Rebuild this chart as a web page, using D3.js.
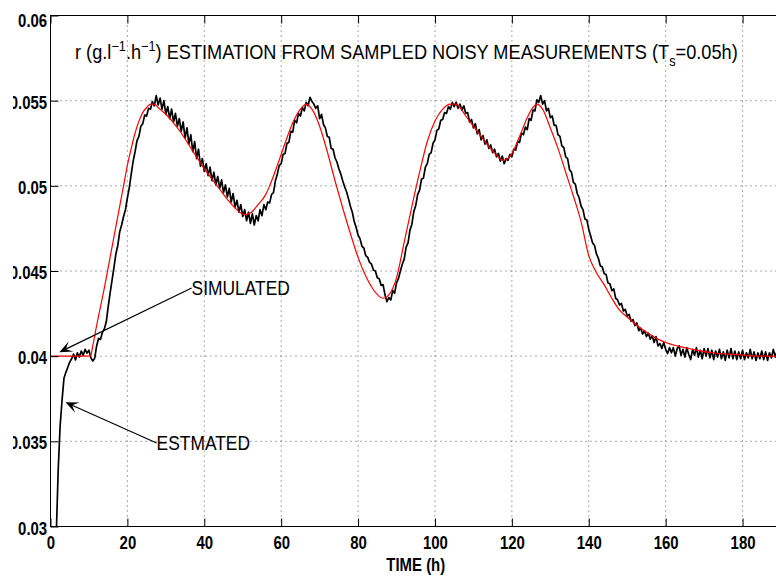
<!DOCTYPE html>
<html>
<head>
<meta charset="utf-8">
<title>r estimation from sampled noisy measurements</title>
<script src="https://d3js.org/d3.v7.min.js"></script>
<style>
  body { margin: 0; background: #fff; }
  svg { display: block; font-family: "Liberation Sans", Arial, Helvetica, sans-serif; }
  .grid line { stroke: #555; stroke-width: 1; stroke-dasharray: 1,4; }
  .axis path { display: none; }
  .axis line { stroke: #000; }
  .axis text { font-size: 18px; font-weight: bold; fill: #000; }
  .note { font-size: 20px; fill: #000; }
</style>
</head>
<body>
<div id="chart"></div>
<script>
// ticks
var xTicks = [0, 20, 40, 60, 80, 100, 120, 140, 160, 180];
var yTicks = [0.03, 0.035, 0.04, 0.045, 0.05, 0.055, 0.06];
var yTickLabels = ["0.03", "0.035", "0.04", "0.045", "0.05", "0.055", "0.06"];

// simulated r (red)
var simTime = [0, 10, 10.4, 11, 12, 13, 14, 15, 16, 17, 18, 19, 20, 21, 22, 23, 24, 25, 26, 27, 28,
  30, 32, 34, 36, 38, 40, 42, 44, 46, 48, 50.5, 52, 54, 56, 57, 59, 61, 63, 65, 66.5,
  68, 70, 72, 74, 76, 78, 80, 82, 84, 86.5, 88, 90, 92, 94, 96, 98, 100, 102, 104, 105.5,
  108, 110, 112, 114, 116, 117.7, 119, 120, 122, 124, 125.5, 126.5, 128, 130, 132, 134, 136, 138,
  140, 142, 144, 146, 148, 150, 152, 155, 158, 160, 163, 167, 172, 178, 185, 190];
var simValue = [0.0400, 0.0400, 0.04002, 0.0406, 0.0418, 0.0429, 0.0440, 0.0452, 0.0464, 0.0476, 0.0488, 0.0500, 0.0512, 0.0522, 0.0531, 0.0538, 0.0543, 0.0546, 0.0548, 0.0548, 0.0546,
  0.0542, 0.0537, 0.0531, 0.0524, 0.0517, 0.0510, 0.0504, 0.0498, 0.0492, 0.0487, 0.0483, 0.0484, 0.0489, 0.0495, 0.0500, 0.0512, 0.0525, 0.0537, 0.0545, 0.0548,
  0.0545, 0.0535, 0.0520, 0.0503, 0.0487, 0.0472, 0.0458, 0.0447, 0.0439, 0.0434, 0.0436, 0.0446, 0.0467, 0.0488, 0.0508, 0.0526, 0.0538, 0.0545, 0.0548, 0.0548,
  0.0541, 0.0535, 0.0529, 0.0523, 0.0518, 0.0515, 0.0516, 0.0519, 0.0529, 0.0540, 0.0546, 0.0548, 0.0545, 0.0534, 0.0522, 0.0508, 0.0494, 0.0479,
  0.0459, 0.0449, 0.0442, 0.0434, 0.0427, 0.0423, 0.0419, 0.0414, 0.0410, 0.0408, 0.0406, 0.0404, 0.0402, 0.0401, 0.0400, 0.0400];

// estimated r (black), sampled every 0.5 h from t = 1.5 h
var estStart = 1.5, estStep = 0.5;
var estValue = [
  0.02950, 0.03330, 0.03590, 0.03740, 0.03870, 0.03905, 0.03935, 0.03965, 0.03985, 0.04012,
  0.03978, 0.04020, 0.03995, 0.04030, 0.04005, 0.04040, 0.04018, 0.04035, 0.03990, 0.03972,
  0.03988, 0.04060, 0.04105, 0.04098, 0.04140, 0.04160, 0.04200, 0.04290, 0.04370, 0.04445,
  0.04520, 0.04600, 0.04650, 0.04730, 0.04770, 0.04820, 0.04860, 0.04930, 0.04990, 0.05070,
  0.05145, 0.05200, 0.05265, 0.05290, 0.05350, 0.05365, 0.05415, 0.05410, 0.05455, 0.05450,
  0.05495, 0.05470, 0.05530, 0.05475, 0.05515, 0.05450, 0.05500, 0.05420, 0.05465, 0.05395,
  0.05450, 0.05375, 0.05425, 0.05350, 0.05395, 0.05320, 0.05375, 0.05280, 0.05340, 0.05245,
  0.05300, 0.05200, 0.05260, 0.05160, 0.05215, 0.05115, 0.05160, 0.05085, 0.05130, 0.05060,
  0.05110, 0.05030, 0.05080, 0.05005, 0.05055, 0.04985, 0.05035, 0.04960, 0.05005, 0.04935,
  0.04985, 0.04905, 0.04955, 0.04875, 0.04915, 0.04845, 0.04890, 0.04820, 0.04860, 0.04795,
  0.04845, 0.04780, 0.04835, 0.04770, 0.04825, 0.04795, 0.04860, 0.04825, 0.04890, 0.04860,
  0.04905, 0.04900, 0.04950, 0.04960, 0.05030, 0.05070, 0.05120, 0.05130, 0.05185, 0.05190,
  0.05250, 0.05255, 0.05320, 0.05315, 0.05385, 0.05370, 0.05425, 0.05410, 0.05460, 0.05440,
  0.05490, 0.05470, 0.05520, 0.05495, 0.05480, 0.05455, 0.05470, 0.05395, 0.05420, 0.05360,
  0.05340, 0.05290, 0.05285, 0.05220, 0.05215, 0.05165, 0.05140, 0.05100, 0.05070, 0.05030,
  0.04995, 0.04965, 0.04925, 0.04880, 0.04845, 0.04790, 0.04755, 0.04710, 0.04690, 0.04645,
  0.04635, 0.04590, 0.04580, 0.04550, 0.04540, 0.04505, 0.04500, 0.04460, 0.04455, 0.04415,
  0.04420, 0.04360, 0.04320, 0.04345, 0.04330, 0.04385, 0.04370, 0.04430, 0.04455, 0.04500,
  0.04540, 0.04570, 0.04640, 0.04665, 0.04740, 0.04775, 0.04850, 0.04885, 0.04950, 0.04975,
  0.05040, 0.05045, 0.05110, 0.05130, 0.05185, 0.05195, 0.05250, 0.05270, 0.05325, 0.05335,
  0.05385, 0.05390, 0.05430, 0.05425, 0.05465, 0.05450, 0.05490, 0.05465, 0.05490, 0.05455,
  0.05480, 0.05445, 0.05470, 0.05425, 0.05430, 0.05375, 0.05390, 0.05340, 0.05365, 0.05305,
  0.05330, 0.05270, 0.05295, 0.05245, 0.05270, 0.05220, 0.05240, 0.05195, 0.05215, 0.05170,
  0.05190, 0.05145, 0.05175, 0.05130, 0.05160, 0.05150, 0.05185, 0.05170, 0.05215, 0.05210,
  0.05260, 0.05255, 0.05310, 0.05300, 0.05345, 0.05330, 0.05395, 0.05385, 0.05445, 0.05440,
  0.05505, 0.05490, 0.05530, 0.05480, 0.05500, 0.05440, 0.05455, 0.05400, 0.05410, 0.05355,
  0.05355, 0.05300, 0.05290, 0.05235, 0.05225, 0.05170, 0.05160, 0.05095, 0.05080, 0.05020,
  0.05010, 0.04955, 0.04930, 0.04880, 0.04860, 0.04805, 0.04800, 0.04745, 0.04705, 0.04665,
  0.04650, 0.04600, 0.04575, 0.04530, 0.04525, 0.04485, 0.04480, 0.04430, 0.04425, 0.04385,
  0.04395, 0.04340, 0.04330, 0.04300, 0.04310, 0.04265, 0.04275, 0.04235, 0.04245, 0.04205,
  0.04215, 0.04180, 0.04195, 0.04150, 0.04165, 0.04130, 0.04150, 0.04115, 0.04135, 0.04100,
  0.04120, 0.04080, 0.04115, 0.04060, 0.04075, 0.04045, 0.04080, 0.04040, 0.04015, 0.04050,
  0.04020, 0.04050, 0.04000, 0.04045, 0.04060, 0.04005, 0.04040, 0.03995, 0.04050, 0.04010,
  0.03980, 0.04040, 0.04005, 0.04050, 0.03995, 0.04035, 0.03985, 0.04045, 0.04000, 0.04045,
  0.03990, 0.04035, 0.03980, 0.04030, 0.03995, 0.04040, 0.03985, 0.04025, 0.03975, 0.04035,
  0.03990, 0.04045, 0.03985, 0.04030, 0.03980, 0.04025, 0.03985, 0.04035, 0.03980, 0.04020,
  0.03990, 0.04040, 0.03985, 0.04025, 0.03975, 0.04020, 0.03985, 0.04030, 0.03980, 0.04025,
  0.03975, 0.04020, 0.03990, 0.04040, 0.03995, 0.04030
];

// annotations: label, text anchor (t, r), arrow tip (t, r)
var noteLabels = ["SIMULATED", "ESTMATED"];
var noteAt = [[36.7, 0.0440], [27.6, 0.0349]];
var noteTip = [[2.3, 0.04023], [3.9, 0.03729]];

var outerWidth = 776, outerHeight = 578;
var margin = {top: 15.5, right: -5, bottom: 51.5, left: 50.5};
var width = outerWidth - margin.left - margin.right;
var height = outerHeight - margin.top - margin.bottom;
var squeeze = 0.83;

var svg = d3.select("#chart").append("svg")
    .attr("width", outerWidth)
    .attr("height", outerHeight);

var defs = svg.append("defs");
defs.append("clipPath").attr("id", "plotClip")
  .append("rect").attr("width", width).attr("height", height);
defs.append("clipPath").attr("id", "labelClip")
  .append("rect").attr("x", 13 - margin.left).attr("y", -margin.top)
    .attr("width", outerWidth).attr("height", outerHeight);

var g = svg.append("g")
    .attr("transform", "translate(" + margin.left + "," + margin.top + ")");

var x = d3.scaleLinear().domain([0, 190]).range([0, width]);
var y = d3.scaleLinear().domain([0.03, 0.06]).range([height, 0]);

// dotted grid
var grid = g.append("g").attr("class", "grid");
grid.selectAll(".vg").data(xTicks.slice(1)).enter().append("line")
    .attr("x1", d => x(d)).attr("x2", d => x(d))
    .attr("y1", 0).attr("y2", height);
grid.selectAll(".hg").data(yTicks.slice(1, -1)).enter().append("line")
    .attr("x1", 0).attr("x2", width)
    .attr("y1", d => y(d)).attr("y2", d => y(d));

// series
var plot = g.append("g").attr("clip-path", "url(#plotClip)");

var estLine = d3.line()
    .x((d, i) => x(estStart + i * estStep))
    .y(d => y(d));
plot.append("path")
    .datum(estValue)
    .attr("fill", "none")
    .attr("stroke", "#000")
    .attr("stroke-width", 1.7)
    .attr("stroke-linejoin", "round")
    .attr("d", estLine);

var simLine = d3.line()
    .x((d, i) => x(simTime[i]))
    .y(d => y(d))
    .curve(d3.curveMonotoneX);
plot.append("path")
    .datum(simValue)
    .attr("fill", "none")
    .attr("stroke", "#ff0000")
    .attr("stroke-width", 1.2)
    .attr("d", simLine);

// axes, ticks pointing inward like the original
g.append("g").attr("class", "axis")
    .attr("transform", "translate(0," + height + ")")
    .call(d3.axisBottom(x).tickValues(xTicks).tickSizeInner(-8).tickSizeOuter(0).tickPadding(10));
g.append("g").attr("class", "axis")
    .call(d3.axisTop(x).tickValues(xTicks).tickSizeInner(-8).tickSizeOuter(0).tickFormat(""));
var yAxis = g.append("g").attr("class", "axis")
    .attr("clip-path", "url(#labelClip)")
    .call(d3.axisLeft(y).tickValues(yTicks).tickFormat((d, i) => yTickLabels[i])
      .tickSizeInner(-8).tickSizeOuter(0).tickPadding(4));
yAxis.selectAll("text").attr("dy", "0.42em");
yAxis.selectAll("text").filter(d => d === 0.06).attr("dy", "0.62em");
g.selectAll(".axis text").attr("transform", "scale(" + squeeze + ",1)");

// frame
g.append("rect")
    .attr("width", width).attr("height", height)
    .attr("fill", "none").attr("stroke", "#000").attr("stroke-width", 1);

// x label
g.append("text")
    .attr("transform", "translate(" + (width / 2) + "," + (height + 44) + ") scale(" + squeeze + ",1)")
    .attr("text-anchor", "middle")
    .style("font-size", "18px").style("font-weight", "bold")
    .text("TIME (h)");

// title
var title = g.append("text").attr("class", "note");
title.append("tspan").text("r (g.l");
title.append("tspan").attr("dy", -8).style("font-size", "14px").text("\u22121");
title.append("tspan").attr("dy", 8).text(".h");
title.append("tspan").attr("dy", -8).style("font-size", "14px").text("\u22121");
title.append("tspan").attr("dy", 8).text(") ESTIMATION FROM SAMPLED NOISY MEASUREMENTS (T");
title.append("tspan").attr("dy", 7).style("font-size", "14px").text("s");
title.append("tspan").attr("dy", -7).text("=0.05h)");
var titleLen = title.node().getComputedTextLength();
title.attr("transform", "translate(" + (75 - margin.left) + "," + (59 - margin.top) + ") scale(" + (663 / titleLen) + ",1)");

// annotations with arrows
noteLabels.forEach(function(label, i) {
  var x0 = x(noteAt[i][0]), y0 = y(noteAt[i][1]);
  var x1 = x(noteTip[i][0]), y1 = y(noteTip[i][1]);
  var dx = x1 - x0, dy = y1 - y0, len = Math.sqrt(dx * dx + dy * dy);
  var ux = dx / len, uy = dy / len, nx = -uy, ny = ux;
  var L = 13, W = 5.5;
  g.append("line")
      .attr("x1", x0).attr("y1", y0)
      .attr("x2", x1 - ux * 6).attr("y2", y1 - uy * 6)
      .attr("stroke", "#000").attr("stroke-width", 1.2);
  g.append("path")
      .attr("d", "M" + x1 + "," + y1 +
        "L" + (x1 - ux * L + nx * W) + "," + (y1 - uy * L + ny * W) +
        "L" + (x1 - ux * L * 0.55) + "," + (y1 - uy * L * 0.55) +
        "L" + (x1 - ux * L - nx * W) + "," + (y1 - uy * L - ny * W) + "Z")
      .attr("fill", "#000");
  g.append("text")
      .attr("class", "note")
      .attr("transform", "translate(" + x0 + "," + (y0 + 7) + ") scale(0.87,1)")
      .text(label);
});
</script>
</body>
</html>
